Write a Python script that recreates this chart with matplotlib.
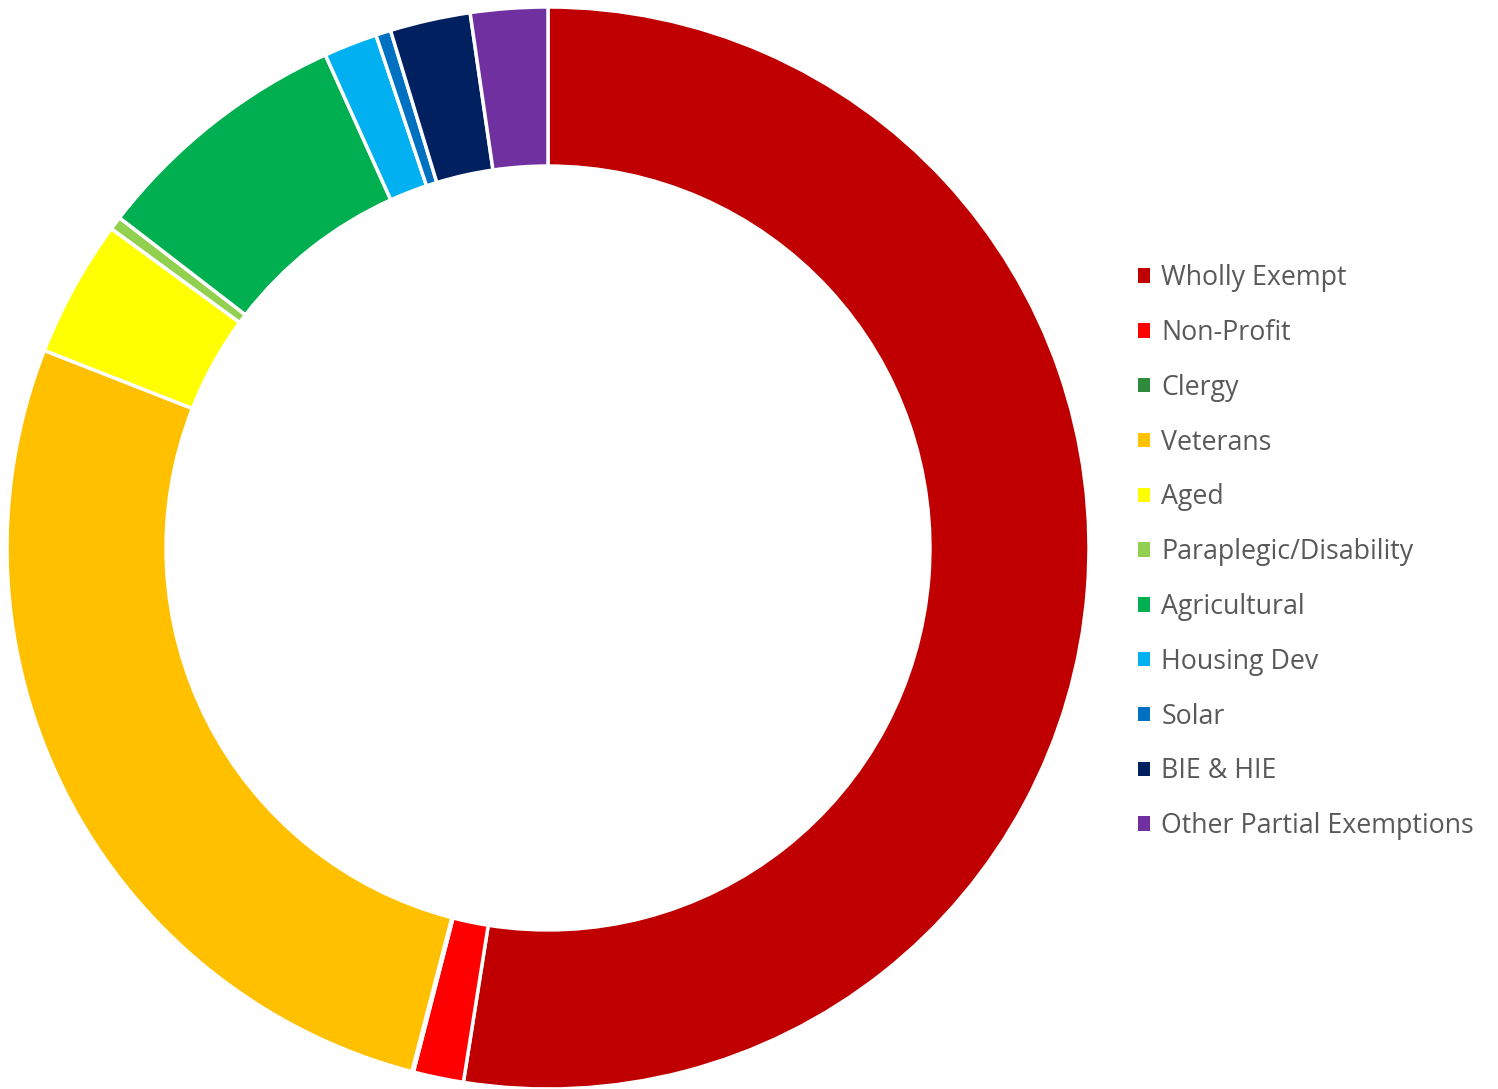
import matplotlib.pyplot as plt
from matplotlib.patches import Patch

# exemption categories, share of total
categories = [
    "Wholly Exempt",
    "Non-Profit",
    "Clergy",
    "Veterans",
    "Aged",
    "Paraplegic/Disability",
    "Agricultural",
    "Housing Dev",
    "Solar",
    "BIE & HIE",
    "Other Partial Exemptions",
]
shares = [52.5, 1.5, 0.05, 26.9, 4.1, 0.4, 7.8, 1.6, 0.45, 2.4, 2.3]
colors = [
    "#C00000", "#FF0000", "#2E8B3E", "#FFC000", "#FFFF00", "#92D050",
    "#00B050", "#00B0F0", "#0070C0", "#002060", "#7030A0",
]

W, H = 1498, 1089
fig = plt.figure(figsize=(W / 100, H / 100), dpi=100)

cx, cy, r = 548, 548, 541
ax = fig.add_axes([(cx - r) / W, (H - cy - r) / H, 2 * r / W, 2 * r / H])
ax.pie(
    shares,
    colors=colors,
    startangle=90,
    counterclock=False,
    radius=1,
    wedgeprops=dict(width=0.294, edgecolor="white", linewidth=2.5),
)
ax.set_xlim(-1, 1)
ax.set_ylim(-1, 1)
ax.set_aspect("equal")
ax.axis("off")

handles = [Patch(facecolor=c, edgecolor="none") for c in colors]
fig.legend(
    handles,
    categories,
    loc="upper left",
    bbox_to_anchor=(1114 / W, 1 - 240 / H),
    frameon=False,
    handlelength=0.45,
    handleheight=0.45,
    handletextpad=0.42,
    labelspacing=1.0,
    prop={"family": "Open Sans", "size": 19.3},
    labelcolor="#595959",
)

fig.savefig("out.png", dpi=100)
